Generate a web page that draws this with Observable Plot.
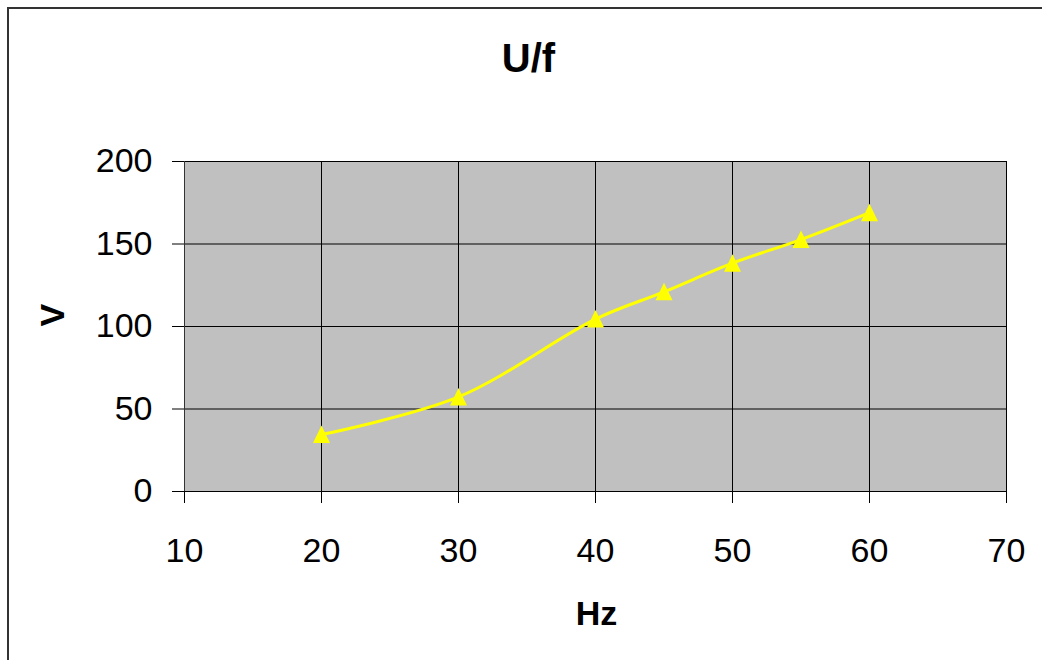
<!DOCTYPE html>
<html>
<head>
<meta charset="utf-8">
<script src="https://cdn.jsdelivr.net/npm/d3@7"></script>
<script src="https://cdn.jsdelivr.net/npm/@observablehq/plot@0.6"></script>
<style>
  html, body { margin: 0; padding: 0; background: #fff; overflow: hidden; }
  #wrap { position: relative; width: 1042px; height: 660px; }
  #border { position: absolute; left: 7px; top: 7px; width: 1060px; height: 680px; border: 2px solid #333; box-sizing: border-box; pointer-events: none; }
  svg { display: block; }
</style>
</head>
<body>
<div id="wrap"><div id="border"></div></div>
<script>
const freqs = [20, 30, 40, 45, 50, 55, 60];
const volts = [34.5, 57.3, 104.5, 121, 138.4, 152.7, 169];
const xTicks = [10, 20, 30, 40, 50, 60, 70];
const yTicks = [0, 50, 100, 150, 200];
const title = "U/f";
const xLabel = "Hz";
const yLabel = "V";

const data = freqs.map((f, i) => ({f, v: volts[i]}));

const tri = {
  draw(ctx, size) {
    ctx.moveTo(0, -9);
    ctx.lineTo(8.5, 8.5);
    ctx.lineTo(-8.5, 8.5);
    ctx.closePath();
  }
};

const chart = Plot.plot({
  width: 1042,
  height: 660,
  marginLeft: 184,
  marginRight: 36,
  marginTop: 161,
  marginBottom: 169,
  style: {fontFamily: "'Liberation Sans', Arial, sans-serif", background: "transparent", color: "#000"},
  x: {domain: [10, 70], ticks: xTicks},
  y: {domain: [0, 200], ticks: yTicks},
  marks: [
    Plot.frame({fill: "#c0c0c0", stroke: "#808080"}),
    Plot.gridX(xTicks, {stroke: "#000", strokeOpacity: 1, strokeWidth: 1}),
    Plot.gridY(yTicks, {stroke: "#000", strokeOpacity: 1, strokeWidth: 1}),
    Plot.ruleY([0], {stroke: "#000"}),
    Plot.ruleX([10], {stroke: "#333"}),
    Plot.axisX(xTicks, {tickSize: 12, tickPadding: 34, fontSize: 34, label: null}),
    Plot.axisY(yTicks, {tickSize: 12, tickPadding: 20, fontSize: 34, label: null}),
    Plot.line(data, {x: "f", y: "v", stroke: "#ffff00", strokeWidth: 3, curve: "catmull-rom"}),
    Plot.dot(data, {x: "f", y: "v", symbol: tri, fill: "#ffff00", stroke: "none", r: 8}),
    Plot.text([title], {frameAnchor: "top", dx: -67, dy: -102, text: d => d, fontSize: 40, fontWeight: "bold", lineAnchor: "middle"}),
    Plot.text([xLabel], {frameAnchor: "bottom", dx: 1, dy: 123, text: d => d, fontSize: 34, fontWeight: "bold", lineAnchor: "middle"}),
    Plot.text([yLabel], {frameAnchor: "left", dx: -131, text: d => d, fontSize: 34, fontWeight: "bold", rotate: -90, lineAnchor: "middle"})
  ]
});
document.getElementById("wrap").prepend(chart);
</script>
</body>
</html>
